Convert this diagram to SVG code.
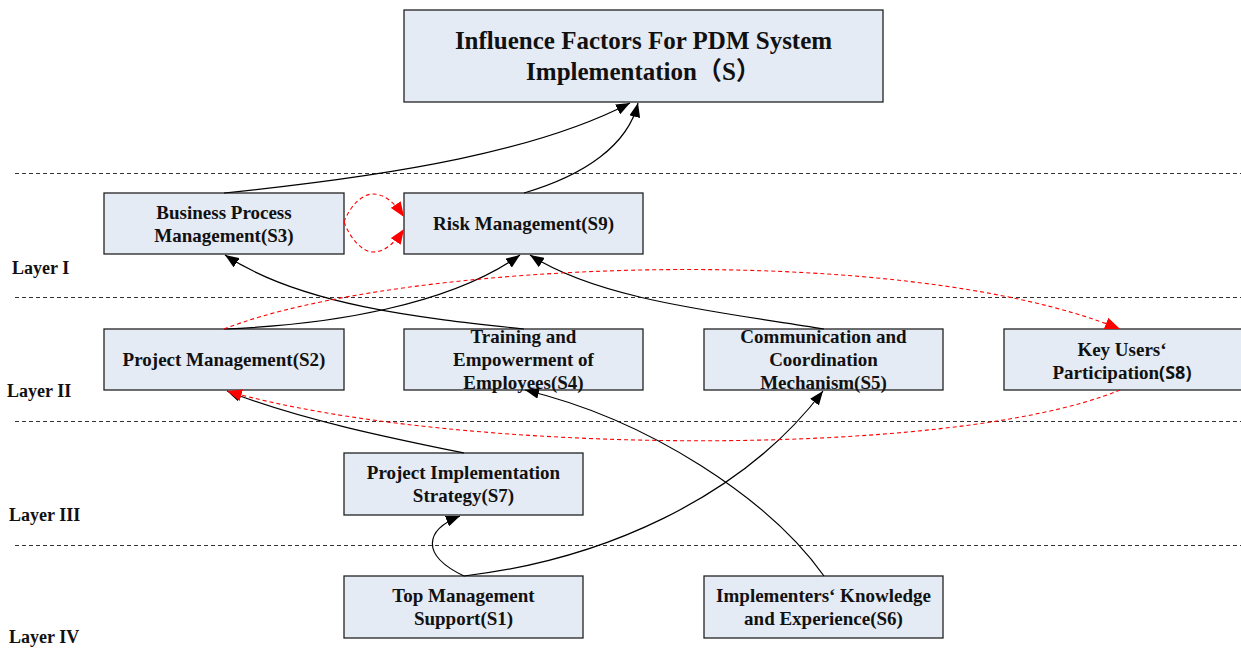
<svg xmlns="http://www.w3.org/2000/svg" width="1241" height="665" viewBox="0 0 1241 665">
<style>
.box{fill:#e5ebf5;stroke:#222;stroke-width:1.3}
.t{font-family:"Liberation Serif","Times New Roman",serif;font-weight:bold;font-size:19px;fill:#111;text-anchor:middle}
.title{font-size:25px}
.layer{font-family:"Liberation Serif","Times New Roman",serif;font-weight:bold;font-size:18px;fill:#111}
.sep{stroke:#333;stroke-width:1;stroke-dasharray:4,3;fill:none}
.c{fill:none;stroke:#000;stroke-width:1.2}
.r{fill:none;stroke:#f00;stroke-width:1.1;stroke-dasharray:4,3}
.sans{font-family:"Open Sans","Noto Sans",sans-serif;font-weight:bold}
</style>
<defs>
<marker id="ab" markerUnits="userSpaceOnUse" markerWidth="15" markerHeight="11" refX="14" refY="5.5" orient="auto"><path d="M0,0 L14,5.5 L0,11 z" fill="#000"/></marker>
<marker id="ar" markerUnits="userSpaceOnUse" markerWidth="16" markerHeight="12" refX="15" refY="6" orient="auto"><path d="M0,0 L15,6 L0,12 z" fill="#f00"/></marker>
</defs>
<g id="separators">
<line class="sep" x1="15" y1="173.5" x2="1241" y2="173.5"/>
<line class="sep" x1="15" y1="297.5" x2="1241" y2="297.5"/>
<line class="sep" x1="15" y1="421.5" x2="1241" y2="421.5"/>
<line class="sep" x1="15" y1="545.5" x2="1241" y2="545.5"/>
</g>
<g id="layers">
<text class="layer" x="12" y="274">Layer I</text>
<text class="layer" x="7" y="397">Layer II</text>
<text class="layer" x="9" y="521">Layer III</text>
<text class="layer" x="9" y="643">Layer IV</text>
</g>
<g id="S"><rect class="box" x="404" y="10" width="479" height="92"/>
<text class="t title" x="643.5" y="49">Influence Factors For PDM System</text>
<text class="t title" x="643.5" y="80">Implementation<tspan font-family="'Noto Sans CJK SC',serif">（</tspan>S<tspan font-family="'Noto Sans CJK SC',serif">）</tspan></text></g>
<g id="S3"><rect class="box" x="104" y="193" width="240" height="61"/>
<text class="t" x="224" y="219">Business Process</text><text class="t" x="224" y="242">Management(S3)</text></g>
<g id="S9"><rect class="box" x="404" y="193" width="239" height="61"/>
<text class="t" x="523.5" y="230">Risk Management(S9)</text></g>
<g id="S2"><rect class="box" x="104" y="329" width="240" height="61"/>
<text class="t" x="224" y="366">Project Management(S2)</text></g>
<g id="S4"><rect class="box" x="404" y="329" width="239" height="61"/>
<text class="t" x="523.5" y="343">Training and</text><text class="t" x="523.5" y="366">Empowerment of</text><text class="t" x="523.5" y="389">Employees(S4)</text></g>
<g id="S5"><rect class="box" x="704" y="329" width="239" height="61"/>
<text class="t" x="823.5" y="343">Communication and</text><text class="t" x="823.5" y="366">Coordination</text><text class="t" x="823.5" y="389">Mechanism(S5)</text></g>
<g id="S8"><rect class="box" x="1004" y="329" width="240" height="61"/>
<text class="t" x="1122" y="356">Key Users‘</text><text class="t" x="1122" y="379">Participation<tspan class="sans" font-size="18">(S8)</tspan></text></g>
<g id="S7"><rect class="box" x="344" y="453" width="239" height="62"/>
<text class="t" x="463.5" y="479">Project Implementation</text><text class="t" x="463.5" y="502">Strategy(S7)</text></g>
<g id="S1"><rect class="box" x="344" y="576" width="239" height="62"/>
<text class="t" x="463.5" y="602">Top Management</text><text class="t" x="463.5" y="625">Support(S1)</text></g>
<g id="S6"><rect class="box" x="704" y="576" width="239" height="62"/>
<text class="t" x="823.5" y="602">Implementers‘ Knowledge</text><text class="t" x="823.5" y="625">and Experience(S6)</text></g>
<g id="connectors">
<path class="c" marker-end="url(#ab)" d="M224,193 C400,175 540,150 630,103"/>
<path class="c" marker-end="url(#ab)" d="M524,193 C585,175 628,145 638,103"/>
<path class="c" marker-end="url(#ab)" d="M524,329 C420,318 300,305 225,255"/>
<path class="c" marker-end="url(#ab)" d="M224,329 C330,325 450,305 520,255"/>
<path class="c" marker-end="url(#ab)" d="M824,329 C720,312 600,300 530,255"/>
<path class="c" marker-end="url(#ab)" d="M464,453 C400,440 300,420 227,391"/>
<path class="c" marker-end="url(#ab)" d="M824,576 C770,500 650,420 525,390"/>
<path class="c" marker-end="url(#ab)" d="M464,576 C600,560 740,500 823,391"/>
<path class="c" marker-end="url(#ab)" d="M464,576 C420,555 425,530 460,516"/>
<path class="r" marker-end="url(#ar)" d="M344,222 C350,206 362,194 373,194 C386,194 396,205 404,217"/>
<path class="r" marker-end="url(#ar)" d="M344,222 C350,238 362,252 373,252 C386,252 396,241 404,229"/>
<path class="r" marker-end="url(#ar)" d="M224,329 C400,260 900,240 1120,329"/>
<path class="r" marker-end="url(#ar)" d="M1120,390 C950,460 450,455 227,391"/>
</g>
</svg>
